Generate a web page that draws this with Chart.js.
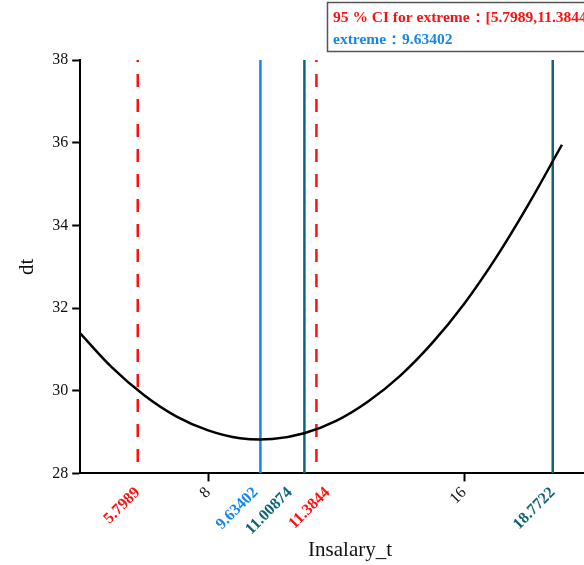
<!DOCTYPE html>
<html>
<head>
<meta charset="utf-8">
<script src="https://cdn.jsdelivr.net/npm/chart.js@4.4.1/dist/chart.umd.min.js"></script>
<style>
  html, body { margin: 0; padding: 0; background: #fff; overflow: hidden; }
  #wrap { width: 624px; height: 565px; }
</style>
</head>
<body>
<div id="wrap"><canvas id="chart-extreme" width="624" height="565"></canvas></div>
<script>
// Fitted curve dt ~ Insalary_t
const curveX = [4, 5, 6, 7, 8, 9, 10, 11, 12, 13, 14, 15, 16, 17, 18, 19.06];
const curveY = [31.39, 30.56, 29.89, 29.38, 29.04, 28.85, 28.83, 28.97, 29.27, 29.74, 30.36, 31.15, 32.10, 33.22, 34.49, 35.95];

// Reference lines
const ciBounds = [5.7989, 11.3844];
const extremeValue = 9.63402;
const markerLines = [11.00874, 18.7722];

// Axes (the plot runs on past the right edge of the picture)
const xRange = [4, 20.875];
const yRange = [28, 38];
const xTickValues = [5.7989, 8, 9.63402, 11.00874, 11.3844, 16, 18.7722];
const xTickLabels = ['5.7989', '8', '9.63402', '11.00874', '11.3844', '16', '18.7722'];
const xLabelNudge = [0, 0, -0.15, -0.45, 0.35, 0, 0]; // labels pushed apart so they don't overlap
const yTickValues = [28, 30, 32, 34, 36, 38];

const legendLines = [
  '95 % CI for extreme\uFF1A[5.7989,11.3844]',
  'extreme\uFF1A' + extremeValue
];

const RED = '#ff1010';
const BLUE = '#1786e8';
const TEAL = '#0d6678';
const SERIF = '"Liberation Serif", "Times New Roman", serif';

const tickColor = (v) => {
  if (ciBounds.includes(v)) return RED;
  if (v === extremeValue) return BLUE;
  if (markerLines.includes(v)) return TEAL;
  return '#111';
};
const isPlain = (v) => v === 8 || v === 16;

// vertical line drawn top to bottom
const vline = (x, color, dashed) => ({
  data: [{ x: x, y: yRange[1] }, { x: x, y: yRange[0] }],
  borderColor: color,
  borderWidth: 2.5,
  borderDash: dashed ? [13, 12] : [],
  borderDashOffset: dashed ? 11 : 0,
  pointRadius: 0,
  fill: false
});

// Legend box in the top right corner
const legendBox = {
  id: 'legendBox',
  afterDraw: (chart) => {
    const c = chart.ctx;
    c.save();
    c.strokeStyle = '#555';
    c.lineWidth = 1.5;
    c.strokeRect(327.5, 2.5, 300, 49);
    c.font = 'bold 15.5px ' + SERIF;
    c.textBaseline = 'alphabetic';
    c.fillStyle = RED;
    c.fillText(legendLines[0], 333, 22);
    c.fillStyle = BLUE;
    c.fillText(legendLines[1], 333, 44);
    c.restore();
  }
};

const datasets = [
  {
    data: curveX.map((x, i) => ({ x: x, y: curveY[i] })),
    borderColor: '#000',
    borderWidth: 2.5,
    pointRadius: 0,
    tension: 0.4,
    fill: false
  },
  vline(ciBounds[0], RED, true),
  vline(ciBounds[1], RED, true),
  vline(extremeValue, BLUE, false),
  vline(markerLines[0], TEAL, false),
  vline(markerLines[1], TEAL, false)
];

const plainTick = (ctx) => ctx.tick && ctx.index !== undefined && isPlain(xTickValues[ctx.index]);

new Chart(document.getElementById('chart-extreme'), {
  type: 'line',
  data: { datasets: datasets },
  plugins: [legendBox],
  options: {
    responsive: false,
    animation: false,
    events: [],
    layout: { padding: { left: 15, top: 60, right: 4, bottom: 2 } },
    plugins: { legend: { display: false }, tooltip: { enabled: false } },
    scales: {
      x: {
        type: 'linear',
        min: xRange[0],
        max: xRange[1],
        afterBuildTicks: (axis) => { axis.ticks = xTickValues.map((v, i) => ({ value: v + xLabelNudge[i] })); },
        border: { color: '#000', width: 2 },
        grid: {
          drawOnChartArea: false,
          tickLength: 8,
          tickWidth: 2,
          tickColor: (ctx) => plainTick(ctx) ? '#000' : 'rgba(0,0,0,0)'
        },
        ticks: {
          autoSkip: false,
          minRotation: 45,
          maxRotation: 45,
          padding: 2,
          color: (ctx) => tickColor(xTickValues[ctx.index]),
          font: (ctx) => ({ family: SERIF, size: 16, weight: plainTick(ctx) ? 'normal' : 'bold' }),
          callback: (v, i) => xTickLabels[i]
        },
        title: { display: true, text: 'Insalary_t', color: '#111', font: { family: SERIF, size: 21 }, padding: { top: -3, bottom: 0 } }
      },
      y: {
        type: 'linear',
        min: yRange[0],
        max: yRange[1],
        afterBuildTicks: (axis) => { axis.ticks = yTickValues.map(v => ({ value: v })); },
        border: { color: '#000', width: 2 },
        grid: { drawOnChartArea: false, tickLength: 8, tickWidth: 2, tickColor: '#000' },
        ticks: { color: '#111', padding: 4, font: { family: SERIF, size: 16 } },
        title: { display: true, text: 'dt', color: '#111', font: { family: SERIF, size: 21 }, padding: { top: 0, bottom: 8 } }
      }
    }
  }
});
</script>
</body>
</html>
